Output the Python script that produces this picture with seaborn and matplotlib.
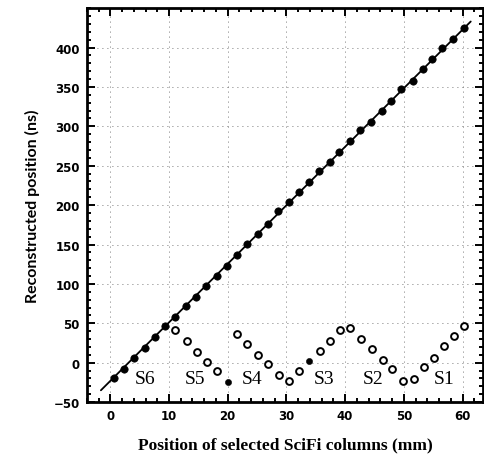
import numpy as np
import pandas as pd
import matplotlib
matplotlib.use("Agg")
import matplotlib.pyplot as plt
import seaborn as sns
from matplotlib.ticker import MultipleLocator

# measured points on the fitted line (filled dots)
filled_x = [0.6, 2.3, 4.1, 5.9, 7.7, 9.4, 11.1, 12.9, 14.6, 16.3, 18.1, 19.9,
            21.6, 23.3, 25.1, 26.9, 28.6, 30.4, 32.1, 33.8, 35.5, 37.4, 39.0,
            40.9, 42.6, 44.4, 46.2, 47.8, 49.6, 51.5, 53.2, 54.8, 56.5, 58.3, 60.2]
filled_y = [-20, -7.6, 6, 19, 32.5, 46, 58, 72, 84, 97.5, 110, 123,
            137, 150.6, 163, 176, 192, 204, 217, 229.5, 243, 255, 268,
            281, 295, 306, 320, 332.5, 347, 358, 373, 386, 399, 411, 425]

# residual-like points (open circles)
open_x = [11.1, 13.0, 14.7, 16.4, 18.2, 20.0, 21.5, 23.3, 25.1, 26.9, 28.7,
          30.4, 32.2, 33.9, 35.7, 37.5, 39.2, 40.9, 42.7, 44.6, 46.4, 48.0,
          49.9, 51.7, 53.4, 55.1, 56.8, 58.6, 60.3]
open_y = [42, 27, 14, 1, -10.5, -24, 37, 23.6, 10, -2, -15,
          -23, -10.5, 2, 15, 28, 42, 44, 30, 17, 4, -8,
          -23, -21, -6, 6, 21, 34, 46]
open_solid = [False, False, False, False, False, True, False, False, False, False, False,
              False, False, True, False, False, False, False, False, False, False, False,
              False, False, False, False, False, False, False]

# fitted line end points
fit_x = [-1.6, 61.4]
fit_y = [-35, 433]

# column labels
sec_labels = ["S6", "S5", "S4", "S3", "S2", "S1"]
sec_x = [6.0, 14.4, 24.2, 36.5, 44.7, 56.9]
sec_y = [-20, -20, -20, -20, -20, -20]

sns.set_style("ticks")
plt.rcParams.update({"text.color": "black", "axes.labelcolor": "black",
                     "xtick.color": "black", "ytick.color": "black",
                     "axes.edgecolor": "black"})

df_f = pd.DataFrame({"x": filled_x, "y": filled_y})
df_o = pd.DataFrame({"x": open_x, "y": open_y, "solid": open_solid})
df_fit = pd.DataFrame({"x": fit_x, "y": fit_y})

fig = plt.figure(figsize=(4.85, 4.56), dpi=100)
ax = fig.add_axes([0.179, 0.116, 0.817, 0.864])

for v in range(0, 61, 10):
    ax.axvline(v, color="0.3", lw=0.6, ls=(0, (1, 5)), zorder=0)
for v in range(0, 401, 50):
    ax.axhline(v, color="0.3", lw=0.6, ls=(0, (1, 5)), zorder=0)

sns.lineplot(data=df_fit, x="x", y="y", color="black", lw=1.3, ax=ax, zorder=2)
sns.scatterplot(data=df_f, x="x", y="y", color="black", s=28, edgecolor="black",
                linewidth=0.5, ax=ax, zorder=3)
sns.scatterplot(data=df_o[~df_o.solid], x="x", y="y", facecolor="white", s=24,
                edgecolor="black", linewidth=1.4, ax=ax, zorder=3)
sns.scatterplot(data=df_o[df_o.solid], x="x", y="y", color="black", s=20,
                edgecolor="black", ax=ax, zorder=3)

for lab, x, y in zip(sec_labels, sec_x, sec_y):
    ax.text(x, y, lab, ha="center", va="center", fontsize=14,
            family="Liberation Serif")

ax.set_xlim(-4, 63.5)
ax.set_ylim(-50, 450)
ax.xaxis.set_major_locator(MultipleLocator(10))
ax.xaxis.set_minor_locator(MultipleLocator(2))
ax.yaxis.set_major_locator(MultipleLocator(50))
ax.yaxis.set_minor_locator(MultipleLocator(10))
ax.set_yticks(range(-50, 401, 50))
ax.tick_params(which="both", direction="in", top=True, right=True, width=1.4)
ax.tick_params(which="major", length=6, labelsize=8.5, pad=5)
ax.tick_params(which="minor", length=3)
for lbl in ax.get_xticklabels() + ax.get_yticklabels():
    lbl.set_fontweight("bold")
for s in ax.spines.values():
    s.set_linewidth(2)

ax.set_xlabel("Position of selected SciFi columns (mm)", fontsize=12.5,
              fontweight="bold", family="Liberation Serif", labelpad=10)
ax.set_ylabel("Reconstructed position (ns)", fontsize=11.5,
              fontweight="bold", family="Lato", labelpad=10)

fig.savefig("out.png", dpi=100)
